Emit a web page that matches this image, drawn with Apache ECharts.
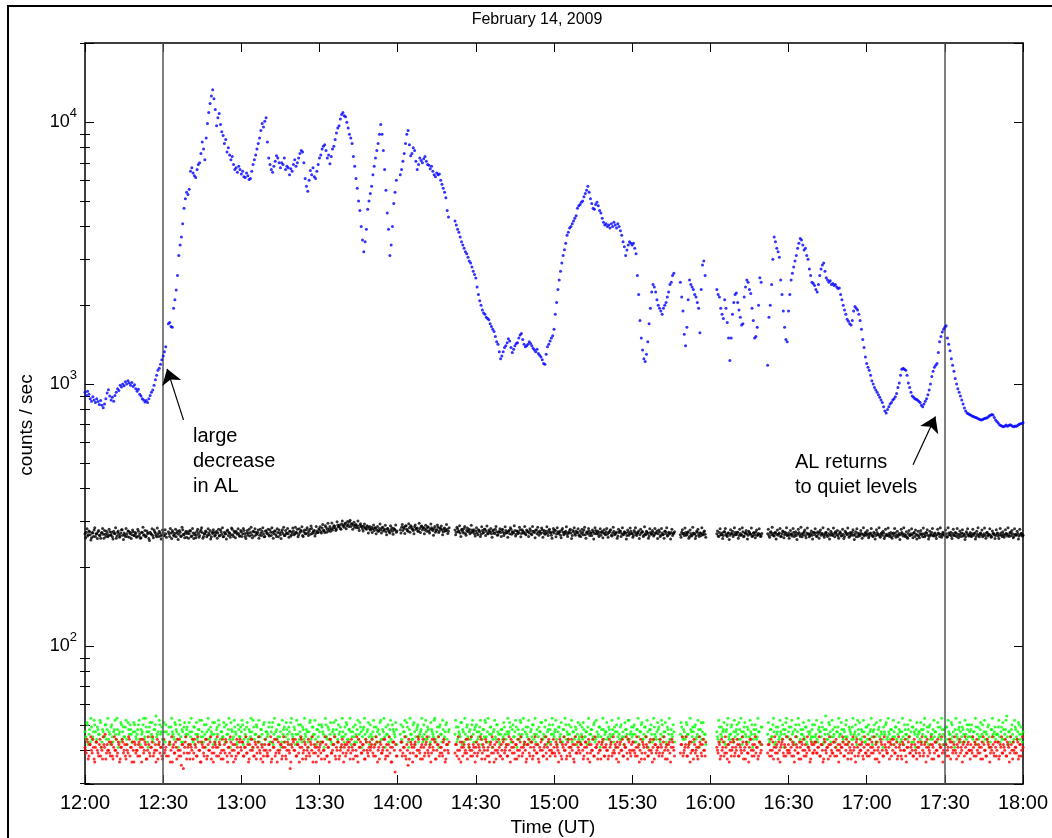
<!DOCTYPE html>
<html>
<head>
<meta charset="utf-8">
<script src="https://cdn.jsdelivr.net/npm/echarts@6/dist/echarts.min.js"></script>
<style>
  html, body { margin: 0; padding: 0; background: #fff; }
  #chart { width: 1052px; height: 838px; }
</style>
</head>
<body>
<div id="chart"></div>
<script>
// Count rates from 12:00 UT. "A" readouts fall on each 30 s mark, "B" readouts
// 15 s later; null marks a data gap.
const stepMinutes = 0.5;
const offsetB = 0.25;
const timeLabels = ['12:00','12:30','13:00','13:30','14:00','14:30','15:00','15:30','16:00','16:30','17:00','17:30','18:00'];
const yMin = 29.7;
const yMax = 20080;
const eventMarks = [30, 330]; // 12:30 and 17:30

// blue channel
const blueCounts = [
  930,905,940,915,880,860,895,870,850,880,858,835,865,830,812,840,880,925,951,900,
  870,890,860,905,930,960,945,990,975,1000,985,1020,1000,1030,1010,990,1015,980,995,960,
  940,955,915,900,880,870,855,865,850,880,905,930,950,990,1040,1080,1130,1150,1190,1240,
  1280,1330,1390,null,1700,1720,1660,1650,1950,2100,2290,2600,3100,3400,3650,4100,4700,5100,5400,5300,
  5550,6500,6700,6400,6250,6150,6600,6900,7000,7600,8400,7900,7200,8700,9900,10900,11800,12600,13300,12300,
  11200,9700,10400,10800,9800,9200,8900,8300,8600,7700,8000,7500,7200,7400,6900,6600,6700,6450,6800,6600,
  6350,6500,6200,6150,6400,6250,6050,6100,6500,6900,7200,7500,7900,8300,8700,9300,9900,9600,10100,10400,
  8400,7300,6900,6600,6450,6800,7100,7450,7300,7000,6700,7000,6900,7300,6600,6800,6700,6300,6650,6500,
  6900,7200,6800,7000,7300,7600,7800,7700,7000,6100,5700,5450,6000,6550,6300,6700,6200,6100,6500,6900,
  7300,7500,7900,8100,8200,7800,7300,7500,6950,7400,7900,8100,8600,9100,9500,9700,10300,10700,10900,10600,
  10500,10000,9500,9000,8700,8300,7400,6800,6100,5600,5000,4600,4000,3550,3200,3500,3900,4650,5000,5350,
  5700,6300,6800,7300,7800,8300,9000,9800,9000,7800,6600,5500,4500,3900,3100,3400,4000,4900,5400,6000,
  null,null,6300,6600,7100,7600,8300,9000,9300,8200,7450,7600,8000,7800,7100,6600,6900,7300,7150,7000,
  7250,7400,7100,6900,6850,6650,6800,6500,6300,6200,6400,6300,6350,6000,5800,5600,5400,5150,4600,4350,
  null,null,null,null,4200,4050,3900,3800,3650,3500,3400,3300,3200,3150,3050,2950,2900,2800,2700,2620,
  2540,2350,2200,2080,2000,1920,1870,1850,1800,1780,1760,1700,1660,1620,1590,1520,1450,1420,1330,1250,
  1280,1330,1380,1400,1440,1490,1460,1380,1320,1360,1400,1430,1440,1500,1540,1560,1480,1420,1390,1400,
  1420,1450,1430,1400,1370,1350,1330,1360,1310,1290,1270,1240,1200,1190,1300,1390,1420,1460,1500,1530,
  1620,1850,2050,2300,2500,2700,2900,3100,3260,3450,3700,3800,3950,4000,4100,4200,4300,4400,4700,4800,
  4850,4950,5000,5200,5350,5500,5700,5400,5100,4900,4700,4650,4850,4950,4800,4600,4500,4300,4150,4050,
  4100,4000,4050,3950,4100,4000,4150,4050,3950,4100,4000,3850,3700,3500,3350,3100,3250,3400,3500,3450,
  3400,3450,3300,3150,2600,2200,1750,1500,1350,1250,1220,1300,1450,1700,1950,2250,2400,2350,2250,2100,
  2000,1950,1900,1850,1950,2000,2050,2150,2250,2400,2450,2600,2650,null,null,null,null,2450,2150,1900,
  1550,1400,1650,2100,2500,2400,2350,2300,2200,2150,2050,1950,1570,2300,2850,2950,2600,null,null,null,
  null,null,null,null,null,2300,2200,2150,1950,1850,1780,2100,1950,1720,1500,1230,1500,1850,2050,2200,
  2230,2050,1920,1800,1680,1700,2150,2350,2500,2450,2300,2220,1950,1750,1500,1520,1650,2000,2550,2450,
  null,null,null,null,1180,1800,2000,2400,3000,3650,3500,3300,3200,3050,2500,2200,1900,1650,1480,1450,
  1900,2200,2500,2650,2800,2950,3100,3300,3450,3600,3550,3400,3250,3300,3100,3000,2750,2600,2450,2420,
  2380,2300,2250,2400,2600,2750,2850,2900,2700,2550,2500,2450,2480,2400,2420,2380,2400,2350,2320,2330,
  2200,2100,2000,1920,1850,1770,1740,1700,1680,1750,1900,1980,1950,1920,1850,1750,1620,1480,1380,1270,
  1200,1160,1130,1080,1030,1000,970,950,930,910,890,870,850,820,790,775,800,820,840,850,
  870,880,895,920,970,1010,1080,1140,1150,1140,1130,1080,1010,970,930,900,890,880,875,870,
  860,850,830,820,840,860,880,910,950,1000,1070,1120,1160,1180,1200,1320,1450,1520,1580,1620,
  1650,1670,1500,1420,1340,1250,1180,1120,1050,1000,960,930,900,870,840,810,790,775,770,765,
  760,755,752,748,745,740,735,732,730,733,738,740,742,748,755,760,765,762,745,730,
  720,710,700,695,690,688,692,698,690,695,700,697,690,688,692,690,696,702,705,708,
  712
];

// black channel, A readouts
const blackCounts = [
  268,272,263,275,266,259,270,277,262,268,273,265,258,271,267,276,262,269,264,273,
  266,261,274,269,258,272,267,263,278,265,270,262,268,275,260,271,266,273,264,269,
  262,274,268,259,271,265,276,263,269,257,272,267,264,277,270,261,268,274,263,266,
  271,264,268,null,273,262,270,276,265,269,261,274,267,272,263,278,266,270,260,273,
  268,275,263,270,266,259,274,269,264,277,271,262,268,273,265,270,276,261,269,272,
  265,274,270,263,278,267,261,272,268,275,264,270,266,279,262,271,274,267,269,263,
  273,268,276,262,270,265,279,271,266,274,263,272,269,277,265,270,274,268,262,275,
  270,266,278,264,272,268,275,262,271,277,266,273,269,264,276,270,268,274,263,271,
  275,268,272,279,266,271,276,264,273,269,278,270,274,267,281,272,276,269,275,271,
  278,273,282,276,271,284,279,275,286,280,277,288,283,279,290,285,281,292,287,284,
  295,288,291,298,286,293,289,284,291,287,282,289,285,280,286,283,279,285,281,277,
  284,280,276,282,278,274,281,277,283,275,279,273,280,276,270,278,274,281,277,272,
  null,null,278,284,276,281,287,279,274,283,288,280,276,285,279,282,275,281,286,278,
  283,277,280,285,274,279,283,276,281,272,278,284,275,280,277,273,282,276,279,274,
  null,null,null,null,277,272,280,275,270,278,274,281,269,276,273,279,271,277,274,268,
  275,270,278,273,267,276,271,279,274,269,277,272,268,275,270,279,273,266,274,271,
  277,272,269,276,271,274,268,279,273,270,276,267,274,271,278,269,275,272,268,277,
  273,270,276,266,274,271,277,268,272,275,269,278,271,267,274,270,276,272,265,273,
  270,276,268,273,271,265,277,272,269,274,267,271,276,270,264,273,268,275,271,266,
  274,269,272,277,266,271,268,275,270,264,273,269,276,271,267,272,265,274,270,268,
  273,267,271,276,265,270,274,268,272,263,271,275,269,266,273,270,264,272,268,274,
  269,264,272,267,271,275,266,270,273,265,268,274,269,263,271,267,272,266,270,275,
  268,273,265,270,267,274,269,263,272,268,271,264,270,null,null,null,null,266,272,268,
  264,271,267,273,262,269,265,270,268,263,272,266,270,264,268,273,267,null,null,null,
  null,null,null,null,null,268,263,271,266,270,264,273,267,262,270,265,269,274,266,271,
  267,272,264,269,266,273,263,270,268,265,271,267,262,270,266,272,264,269,267,263,
  null,null,null,null,268,264,271,266,269,263,272,267,265,270,262,268,273,266,269,264,
  270,265,268,263,272,267,264,269,271,262,268,266,273,264,270,267,261,269,265,271,
  266,270,263,268,272,265,269,264,267,271,262,268,265,270,264,269,273,266,263,268,
  270,264,267,262,271,266,269,263,268,272,265,267,261,270,266,264,269,267,263,271,
  265,268,263,270,266,262,269,264,271,267,263,268,265,270,262,267,264,269,266,261,
  268,264,270,265,262,269,266,271,263,267,265,260,269,264,268,266,270,262,267,265,
  263,269,266,261,268,264,270,265,262,267,271,264,268,263,266,270,262,267,265,269,
  264,268,262,270,266,263,269,265,271,262,267,264,268,270,263,266,261,269,265,267,
  263,268,265,270,262,267,264,269,266,261,268,264,270,263,267,265,262,269,266,264,
  268,263,266,270,262,267,265,269,263,266,271,264,268,262,267,265,269,263,266,268,
  265
];

// black channel, B readouts
const blackCountsB = [
  259,280,266,273,254,271,262,283,268,257,276,264,270,281,258,267,274,261,279,265,
  272,256,269,283,263,275,260,270,278,255,266,281,262,274,269,257,277,264,271,260,
  279,263,258,272,284,266,261,275,270,253,268,280,259,273,265,282,262,270,256,277,
  264,278,260,null,268,281,257,272,263,279,270,255,276,262,284,267,259,274,269,258,
  276,262,281,257,270,265,279,260,273,283,258,268,275,261,280,266,256,272,278,263,
  270,258,279,264,273,283,262,268,256,277,271,260,282,266,274,259,270,280,263,276,
  262,281,268,257,276,270,263,284,259,273,280,266,271,258,279,264,283,261,275,269,
  279,263,272,283,258,275,266,280,261,270,257,278,284,264,269,281,260,274,266,282,
  266,284,270,261,280,274,285,262,277,268,283,264,279,287,269,275,263,286,271,280,
  285,270,291,276,288,272,294,280,274,295,283,287,276,298,285,290,279,300,289,293,
  280,299,286,302,292,279,297,290,283,300,276,293,287,275,292,281,288,270,286,279,
  271,290,283,268,286,275,292,270,284,277,289,266,281,273,288,283,267,279,290,275,
  null,null,270,291,284,269,288,276,293,272,285,279,268,290,281,274,294,271,287,283,
  268,289,274,284,270,292,279,265,286,276,290,271,282,287,266,280,275,291,269,283,
  null,null,null,null,266,284,273,288,262,279,270,286,265,282,276,268,289,272,278,263,
  283,266,276,262,285,270,279,264,287,268,274,281,260,277,269,286,265,272,280,262,
  279,264,285,270,260,276,283,267,272,288,263,275,269,284,261,278,270,286,266,274,
  262,280,268,286,273,259,277,284,265,271,282,260,276,269,285,264,279,270,258,281,
  277,261,283,268,274,259,281,266,272,285,262,270,279,257,276,283,265,271,280,263,
  262,279,266,284,258,273,281,264,270,277,256,283,268,275,262,280,271,259,278,266,
  281,260,272,278,263,284,266,270,258,279,274,262,283,267,271,256,277,265,282,269,
  260,276,283,264,270,257,279,273,262,285,266,272,258,280,268,276,263,281,270,257,
  277,262,281,266,258,274,283,265,270,256,279,268,273,null,null,null,null,260,278,269,
  282,265,271,258,277,263,284,268,257,274,279,262,270,283,266,275,260,null,null,null,
  null,null,null,null,null,275,262,280,266,257,273,281,264,270,255,278,268,262,283,266,
  272,258,279,265,283,261,270,276,256,274,268,282,263,271,259,277,266,280,262,269,
  null,null,null,null,279,260,273,284,264,270,256,277,268,281,262,275,259,272,283,265,
  258,276,267,281,262,273,255,279,266,284,261,270,277,259,282,268,264,275,256,272,
  280,262,273,258,277,268,283,260,271,265,279,256,274,266,282,261,270,276,258,273,
  263,279,257,274,268,282,260,271,265,278,255,273,280,262,269,276,258,283,266,270,
  276,259,268,281,263,272,256,278,266,283,260,270,274,257,279,265,282,262,271,258,
  270,281,260,274,266,255,279,268,283,262,273,258,276,265,280,259,271,277,256,274,
  259,276,268,282,261,271,278,256,274,265,281,263,270,257,279,268,283,260,272,266,
  277,260,283,266,272,257,279,264,270,281,259,275,262,278,268,255,273,280,263,271,
  262,279,268,256,274,283,261,270,277,264,282,258,272,266,280,260,275,269,257,278,
  270,257,281,265,273,260,278,268,283,262,271,276,259,280,266,274,256,279,269,263
];

// green channel, A readouts
const greenCounts = [
  47,44,50,46,43,49,45,52,47,44,48,46,51,43,47,45,50,48,44,46,
  49,45,47,52,44,48,46,43,50,47,45,49,44,51,46,48,43,47,50,45,
  46,50,44,48,47,53,45,49,43,47,51,46,44,48,50,45,47,52,46,49,
  44,47,50,null,46,43,49,47,45,51,48,44,46,50,43,47,49,45,48,46,
  51,45,47,43,49,46,44,48,52,45,47,43,46,50,44,48,45,47,51,46,
  43,48,46,50,44,47,45,49,43,46,48,44,51,47,45,49,46,43,48,45,
  47,50,44,46,49,43,48,45,47,52,44,46,49,45,43,48,46,50,44,47,
  45,49,43,47,51,46,44,48,45,50,47,43,46,49,45,48,44,47,51,46,
  44,48,46,43,50,47,45,49,44,46,48,43,47,52,45,49,46,44,48,45,
  47,43,49,46,45,50,44,48,46,43,47,51,45,48,44,46,49,45,47,43,
  46,50,44,48,47,45,49,43,46,48,44,51,47,45,49,46,43,48,45,50,
  44,47,49,45,43,48,46,52,44,47,45,49,46,43,48,44,50,47,45,48,
  null,null,46,44,49,47,45,51,43,48,46,44,50,47,45,49,43,46,48,45,
  50,44,47,49,45,43,48,46,52,44,47,45,49,46,43,48,45,50,44,47,
  null,null,null,null,46,49,44,47,45,51,48,43,46,49,45,47,44,50,46,48,
  43,47,45,49,46,44,48,52,45,47,43,49,46,44,48,45,50,47,43,46,
  48,45,49,44,47,46,51,43,48,45,47,49,44,46,52,45,48,43,47,46,
  49,44,47,45,50,46,43,48,45,47,51,44,46,49,45,47,43,48,46,50,
  45,48,44,47,49,46,43,48,45,50,47,44,46,49,43,47,45,48,46,44,
  50,46,44,48,45,47,49,43,46,48,45,51,44,47,46,49,45,43,48,46,
  47,44,49,46,45,48,43,47,50,45,46,49,44,47,45,48,46,52,44,47,
  45,49,46,43,48,45,47,50,44,46,49,45,47,43,48,46,44,49,45,47,
  48,44,46,50,45,47,43,49,46,44,48,45,47,null,null,null,null,46,49,44,
  47,45,50,46,43,48,45,47,49,44,46,48,45,51,47,44,46,null,null,null,
  null,null,null,null,null,47,44,49,46,45,48,43,47,50,45,46,49,44,47,45,
  48,46,51,44,47,45,49,46,43,48,45,47,50,44,46,48,45,47,43,49,
  null,null,null,null,46,44,48,45,50,47,43,46,49,45,47,44,48,46,51,45,
  47,44,49,46,43,48,45,47,50,44,46,48,45,49,43,47,46,44,48,45,
  50,46,44,48,47,45,49,43,46,48,44,51,47,45,48,46,43,47,49,45,
  46,48,44,47,50,45,43,48,46,49,44,47,45,52,46,44,48,45,47,43,
  49,46,44,48,45,47,50,43,46,48,45,47,44,49,46,51,45,47,44,48,
  45,47,49,44,46,48,43,47,45,50,46,44,48,45,47,49,43,46,48,45,
  47,44,48,46,50,45,43,47,49,44,46,48,45,47,43,49,46,44,48,46,
  45,49,44,47,46,51,45,43,48,46,44,49,47,45,48,43,46,50,45,47,
  48,45,47,43,49,46,44,48,45,50,47,44,46,49,45,43,48,46,47,44,
  46,49,45,47,44,48,46,52,45,47,43,48,46,44,49,45,47,50,44,46,
  47
];

// green channel, B readouts
const greenCountsB = [
  45,51,42,48,53,44,47,50,43,49,46,52,41,48,45,50,44,53,47,42,
  50,43,48,46,53,41,47,51,44,49,45,52,42,48,50,46,43,51,47,44,
  48,52,42,46,50,44,53,47,41,49,45,51,43,48,54,46,42,50,47,44,
  51,43,47,null,49,42,53,46,44,50,47,41,52,45,48,43,51,46,49,42,
  47,53,44,49,42,51,46,48,43,52,45,50,41,47,53,44,49,46,42,51,
  44,49,52,42,47,45,51,43,50,46,53,41,48,44,52,47,42,50,45,49,
  52,42,48,45,51,44,47,53,41,49,46,50,43,52,45,48,42,51,44,47,
  46,51,43,49,42,53,47,44,50,45,41,52,48,43,51,46,49,42,53,45,
  49,42,52,46,44,50,43,48,53,45,47,41,51,44,49,46,52,42,48,50,
  43,50,47,41,53,45,49,44,51,42,48,46,52,43,50,47,41,53,45,49,
  51,44,48,53,42,47,45,50,43,52,46,49,41,48,53,44,47,51,42,46,
  45,52,42,49,47,43,51,44,48,53,41,46,50,45,52,43,48,46,51,42,
  null,null,50,43,47,52,45,49,41,53,46,44,51,42,48,50,45,47,53,43,
  46,52,44,48,42,51,47,45,53,43,49,41,50,46,52,44,47,51,42,48,
  null,null,null,null,52,43,49,46,51,42,47,53,44,50,41,48,45,52,43,49,
  50,44,47,52,42,48,45,51,43,53,46,49,41,47,52,44,50,46,42,48,
  44,51,46,42,53,47,49,43,50,45,52,41,48,44,51,46,53,42,49,45,
  52,43,48,50,44,53,46,42,49,47,51,44,45,52,42,48,50,43,53,46,
  47,52,42,49,45,51,43,48,53,44,46,50,41,52,47,44,49,42,51,45,
  43,49,51,45,47,42,53,46,48,44,50,43,52,45,49,41,48,53,44,47,
  51,45,48,43,52,46,49,41,47,53,44,50,45,42,51,48,44,52,46,49,
  46,50,43,48,53,42,47,51,44,49,45,52,41,48,50,43,53,46,44,51,
  49,43,52,45,47,51,42,48,53,44,46,50,43,null,null,null,null,51,45,48,
  44,51,46,42,53,47,49,43,50,45,52,41,48,44,51,46,42,null,null,null,
  null,null,null,null,null,45,52,43,49,47,51,42,48,53,44,46,50,43,52,47,
  50,44,48,53,42,47,51,45,49,43,52,46,41,48,50,44,53,47,42,49,
  null,null,null,null,51,43,48,45,53,42,49,47,44,52,46,50,41,48,53,45,
  49,44,52,47,42,50,45,53,43,48,46,51,44,49,42,52,47,45,50,43,
  45,52,43,49,47,51,42,48,54,44,46,50,43,52,45,49,41,47,53,46,
  51,43,48,45,52,42,49,47,44,53,46,50,42,48,51,44,47,52,43,49,
  44,50,47,53,42,48,45,51,43,49,52,46,41,47,50,44,53,46,48,42,
  52,45,49,43,51,47,44,53,42,48,46,50,45,52,43,49,47,41,51,46,
  47,51,43,48,53,45,49,42,50,46,44,52,47,43,51,45,49,53,42,48,
  43,49,52,46,44,50,47,41,53,45,48,51,43,49,46,52,44,48,50,45,
  50,44,47,53,42,49,45,51,46,43,52,47,44,50,41,48,53,45,49,46,
  46,52,43,49,51,44,48,54,42,47,45,50,43,52,48,44,51,46,49,43
];

// red channel, A readouts
const redCounts = [
  41,39,43,38,42,40,44,37,41,43,39,42,38,40,45,41,37,42,40,39,
  43,38,41,40,44,39,42,37,41,43,40,38,42,39,44,41,36,40,43,39,
  40,42,38,44,41,39,43,37,40,42,38,41,45,39,42,40,37,43,41,38,
  42,39,41,null,38,43,40,36,42,39,41,44,38,40,35,42,39,43,37,41,
  39,42,40,37,44,41,38,43,40,36,42,39,41,44,38,40,43,37,41,39,
  42,38,41,43,39,40,37,42,44,38,41,39,43,40,36,42,38,41,39,44,
  40,43,38,41,39,42,37,40,44,41,38,42,39,43,40,37,41,38,42,40,
  39,42,40,36,43,41,38,44,40,39,42,37,41,43,38,40,42,39,36,41,
  43,40,38,42,39,41,44,37,40,42,38,41,39,43,40,36,42,39,41,38,
  41,39,43,40,37,42,38,41,44,39,40,42,38,41,43,37,40,42,39,41,
  38,42,40,43,39,41,37,42,40,38,44,41,39,42,40,37,43,39,41,40,
  42,39,41,38,43,40,37,42,39,41,44,38,40,42,39,36,41,43,33,38,
  null,null,40,43,39,41,38,42,35,37,43,41,39,42,38,40,44,39,41,37,
  41,39,43,40,38,42,39,41,44,37,40,42,38,41,39,43,40,37,42,39,
  null,null,null,null,39,42,40,37,43,41,38,42,40,39,44,41,38,40,42,39,
  41,38,42,40,44,39,41,37,43,40,38,42,39,41,36,40,43,39,41,38,
  40,43,39,41,38,42,40,44,39,41,37,42,40,38,43,41,39,42,40,37,
  42,39,41,43,38,40,42,39,37,41,43,40,38,42,39,41,44,38,40,39,
  41,38,42,40,39,43,37,41,40,42,38,44,39,41,40,37,42,39,43,40,
  39,42,40,38,43,41,37,42,39,40,44,38,41,42,39,40,37,43,41,38,
  42,40,38,41,43,39,40,42,37,41,39,43,40,38,42,41,39,44,40,38,
  40,43,39,41,38,42,40,37,43,41,39,42,38,40,44,39,41,37,42,40,
  41,39,42,38,43,40,41,37,42,39,41,43,40,null,null,null,null,39,42,38,
  40,42,38,41,43,39,40,37,42,40,38,41,43,39,42,40,38,null,null,null,
  null,null,null,null,null,41,39,42,38,40,43,39,41,37,42,40,38,41,43,39,
  40,42,38,41,39,43,40,37,42,39,41,44,38,40,42,39,41,38,43,40,
  null,null,null,null,39,42,40,38,43,41,39,42,37,40,41,43,39,42,38,40,
  42,39,41,43,38,40,42,39,37,41,43,40,38,42,39,41,40,37,42,39,
  40,43,39,41,38,42,40,37,43,39,41,42,38,40,39,43,41,38,42,40,
  39,41,43,38,40,42,39,41,37,42,40,38,43,41,39,40,42,38,41,39,
  42,40,38,41,43,39,40,42,37,41,39,43,40,38,42,40,39,41,43,38,
  40,42,39,43,38,41,40,37,42,40,38,41,43,39,41,40,38,42,39,41,
  41,38,42,40,39,43,41,38,40,42,37,41,39,43,40,38,42,41,39,40,
  39,42,40,38,43,41,39,42,40,37,41,43,39,40,42,38,41,39,43,40,
  42,39,41,43,38,40,42,39,41,37,42,40,38,43,41,39,40,42,38,41,
  40,43,38,41,39,42,40,38,43,41,39,42,37,40,41,39,43,38,42,40,
  41
];

// red channel, B readouts
const redCountsB = [
  40,44,37,42,45,39,41,36,43,40,38,44,41,37,42,46,39,40,43,38,
  42,37,45,40,38,43,36,41,44,39,42,37,40,45,38,41,43,36,42,40,
  38,43,41,36,44,40,42,37,45,39,41,43,38,40,36,44,42,39,41,37,
  44,40,38,null,42,36,45,41,39,43,37,40,44,38,42,34,41,45,39,42,
  37,41,44,39,42,38,45,40,36,43,41,38,44,37,42,40,45,39,36,43,
  41,45,38,42,37,44,40,39,43,36,41,45,38,42,40,37,44,39,43,41,
  43,38,41,45,39,36,42,44,40,38,43,37,41,45,39,42,36,40,44,38,
  38,42,45,37,41,44,39,36,43,40,42,38,45,41,37,43,40,34,42,44,
  40,44,38,42,36,45,41,39,43,37,40,44,38,42,45,39,41,36,43,40,
  42,37,43,40,45,38,41,36,44,39,42,45,37,40,43,38,41,44,36,42,
  39,43,41,37,44,40,42,38,45,36,41,43,39,42,37,44,40,38,43,41,
  44,38,42,45,36,41,43,39,40,44,37,42,38,45,41,36,43,40,42,38,
  null,null,43,38,41,45,37,40,44,39,42,36,41,43,38,45,40,37,42,44,
  38,42,45,39,41,36,44,40,43,37,42,45,39,41,38,44,36,42,40,43,
  null,null,null,null,42,38,45,40,36,43,41,39,44,37,42,40,45,38,41,36,
  43,39,41,45,37,42,40,44,38,41,36,43,45,39,42,37,40,44,38,42,
  37,44,40,42,38,45,36,41,43,39,42,37,44,40,45,38,41,43,36,42,
  44,38,43,37,41,45,39,42,36,40,44,38,41,45,37,43,40,42,39,44,
  39,43,41,36,44,38,42,45,40,37,43,41,38,44,42,36,45,39,41,43,
  42,45,37,41,43,39,44,36,42,40,38,45,41,37,43,40,42,44,38,41,
  40,37,44,42,38,45,39,41,43,36,42,40,44,38,41,45,37,43,39,42,
  43,40,38,45,41,36,44,39,42,37,45,41,38,43,40,36,44,42,39,41,
  38,44,41,39,45,37,42,40,43,36,44,41,38,null,null,null,null,42,45,39,
  41,45,38,42,36,43,40,44,39,41,37,45,42,38,44,40,43,null,null,null,
  null,null,null,null,null,40,43,37,44,41,38,45,39,42,36,43,40,44,38,41,
  44,38,42,40,45,37,41,43,39,36,44,40,42,38,45,41,37,43,39,42,
  null,null,null,null,42,38,44,40,37,45,41,39,43,36,42,44,38,41,45,39,
  40,44,38,42,36,45,41,39,43,37,42,44,40,38,45,41,36,43,39,42,
  43,39,41,45,38,42,36,44,40,41,37,45,42,39,43,38,44,40,36,42,
  41,45,38,42,44,37,43,40,39,45,41,36,44,38,42,40,43,37,45,39,
  38,42,44,39,41,45,37,43,40,36,44,42,38,45,41,39,43,37,42,44,
  44,39,41,37,45,42,38,43,40,44,36,41,45,39,42,38,44,40,37,43,
  39,43,45,38,42,36,44,41,39,45,42,37,43,40,44,38,41,45,36,42,
  42,38,41,44,37,43,40,45,39,42,38,44,41,36,43,45,39,42,40,37,
  40,45,38,42,44,39,41,37,43,45,40,38,44,42,36,41,45,39,43,38,
  43,37,42,45,39,41,44,38,42,36,45,40,43,39,41,44,37,42,38,45
];

// annotation arrows: [tail, head] in (minutes after 12:00, counts/sec)
const arrowDecrease = [[37.8, 730], [31.5, 1144]];
const arrowQuiet = [[317.8, 492], [326.4, 752]];

const FONT = '"Liberation Sans", Arial, Helvetica, sans-serif';

function toPoints(arr, offset) {
  const pts = [];
  arr.forEach((v, i) => { if (v !== null) pts.push([i * stepMinutes + offset, v]); });
  return pts;
}

// minor log ticks (2..9 x 10^n) placed on helper axes in log10 space
const minorTickValues = [];
[10, 100, 1000, 10000].forEach(d => {
  for (let k = 2; k <= 9; k++) {
    const v = k * d;
    if (v > yMin && v < yMax) minorTickValues.push(Math.log10(v));
  }
});

function xAxisDef(position, showLabels) {
  return {
    type: 'value', min: 0, max: 360, interval: 30, position: position,
    axisLine: { show: true, onZero: false, lineStyle: { color: '#000', width: 1.5 } },
    axisTick: { show: true, inside: true, length: 9, lineStyle: { color: '#000', width: 1 } },
    axisLabel: {
      show: showLabels, margin: 9, fontSize: 20, color: '#000', fontFamily: FONT,
      formatter: v => timeLabels[Math.round(v / 30)] || ''
    },
    splitLine: { show: false }
  };
}

function logAxisDef(position, showLabels) {
  return {
    type: 'log', logBase: 10, min: yMin, max: yMax, position: position,
    axisLine: { show: true, onZero: false, lineStyle: { color: '#000', width: 1.5 } },
    axisTick: { show: true, inside: true, length: 9, lineStyle: { color: '#000', width: 1 } },
    axisLabel: {
      show: showLabels, margin: 8, color: '#000', fontFamily: FONT,
      formatter: v => {
        const l = Math.log10(v);
        const e = Math.round(l);
        return Math.abs(l - e) < 1e-6 ? '{b|10}{s|' + e + '}' : '';
      },
      rich: {
        b: { fontSize: 18, color: '#000', fontFamily: FONT },
        s: { fontSize: 13, color: '#000', fontFamily: FONT, padding: [0, 0, 18, 0] }
      }
    },
    splitLine: { show: false }
  };
}

function minorAxisDef(position) {
  return {
    type: 'value', min: Math.log10(yMin), max: Math.log10(yMax), position: position,
    axisLine: { show: false },
    axisTick: { show: true, inside: true, length: 5, customValues: minorTickValues,
                lineStyle: { color: '#000', width: 1 } },
    axisLabel: { show: false },
    splitLine: { show: false }
  };
}

function bandSeries(name, color, a, b) {
  return [
    { type: 'scatter', name: name, xAxisIndex: 0, yAxisIndex: 0,
      data: toPoints(a, 0), symbol: 'circle', symbolSize: 3,
      itemStyle: { color: color }, z: 3 },
    { type: 'scatter', name: name, xAxisIndex: 0, yAxisIndex: 0,
      data: toPoints(b, offsetB), symbol: 'circle', symbolSize: 3,
      itemStyle: { color: color }, z: 3 }
  ];
}

const chart = echarts.init(document.getElementById('chart'), null, { renderer: 'canvas' });

chart.setOption({
  animation: false,
  backgroundColor: '#fff',
  textStyle: { fontFamily: FONT },
  grid: { left: 85, right: 29, top: 43, bottom: 54, containLabel: false },
  xAxis: [xAxisDef('bottom', true), xAxisDef('top', false)],
  yAxis: [logAxisDef('left', true), logAxisDef('right', false), minorAxisDef('left'), minorAxisDef('right')],
  series: [
    {
      type: 'scatter', name: 'blue', xAxisIndex: 0, yAxisIndex: 0,
      data: toPoints(blueCounts, 0), symbol: 'circle', symbolSize: 3,
      itemStyle: { color: '#0000ff' }, z: 5,
      markLine: {
        silent: true, symbol: ['none', 'none'], label: { show: false },
        lineStyle: { color: '#555', width: 1.5, type: 'solid' },
        data: eventMarks.map(m => ({ xAxis: m }))
      }
    },
    ...bandSeries('black', '#000000', blackCounts, blackCountsB),
    ...bandSeries('green', '#00ff00', greenCounts, greenCountsB),
    ...bandSeries('red', '#ff0000', redCounts, redCountsB),
    {
      // annotation arrows
      type: 'scatter', name: 'arrows', xAxisIndex: 0, yAxisIndex: 0, data: [],
      markLine: {
        silent: true, symbol: ['none', 'arrow'], symbolSize: 15, label: { show: false },
        lineStyle: { color: '#000', width: 1.2, type: 'solid' },
        data: [arrowDecrease, arrowQuiet].map(a => [{ coord: a[0] }, { coord: a[1] }])
      }
    }
  ],
  graphic: [
    { type: 'rect', silent: true, z: -10,
      shape: { x: 8, y: 6, width: 1200, height: 1000 },
      style: { fill: 'none', stroke: '#000', lineWidth: 2 } },
    { type: 'text', x: 537, y: 20, silent: true,
      style: { text: 'February 14, 2009', fontSize: 16, fontFamily: FONT, fill: '#000',
               align: 'center', verticalAlign: 'middle', textAlign: 'center', textVerticalAlign: 'middle' } },
    { type: 'text', x: 553, y: 828, silent: true,
      style: { text: 'Time (UT)', fontSize: 19, fontFamily: FONT, fill: '#000',
               align: 'center', verticalAlign: 'middle', textAlign: 'center', textVerticalAlign: 'middle' } },
    { type: 'text', x: 27, y: 425, rotation: Math.PI / 2, silent: true,
      style: { text: 'counts / sec', fontSize: 19, fontFamily: FONT, fill: '#000',
               align: 'center', verticalAlign: 'middle', textAlign: 'center', textVerticalAlign: 'middle' } },
    { type: 'text', left: 193, top: 424, silent: true,
      style: { text: 'large\ndecrease\nin AL', fontSize: 20, lineHeight: 25, fontFamily: FONT, fill: '#000' } },
    { type: 'text', left: 795, top: 450, silent: true,
      style: { text: 'AL returns\nto quiet levels', fontSize: 20, lineHeight: 25, fontFamily: FONT, fill: '#000' } }
  ]
});
</script>
</body>
</html>
